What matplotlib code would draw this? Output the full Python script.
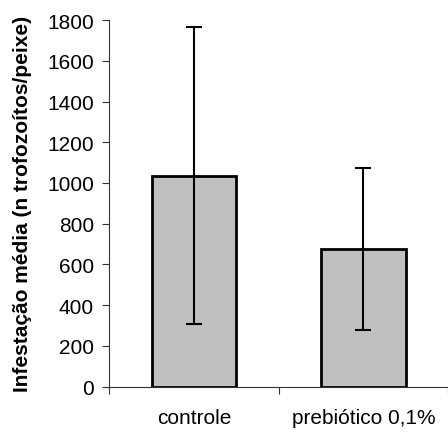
import matplotlib.pyplot as plt
import numpy as np

plt.rcParams['font.family'] = ['Liberation Sans', 'DejaVu Sans']

categories = ['controle', 'prebiótico 0,1%']
means = [1036, 676]
err_low = [308, 278]
err_high = [1765, 1072]

x = np.arange(len(categories))
yerr = [np.array(means) - np.array(err_low), np.array(err_high) - np.array(means)]

fig = plt.figure(figsize=(4.48, 4.35), dpi=100)
ax = fig.add_axes([0.244, 0.1087, 0.756, 0.843])

ax.bar(x, means, width=0.5, color='#c0c0c0', edgecolor='black', linewidth=2, zorder=2)
ax.errorbar(x, means, yerr=yerr, fmt='none', ecolor='black', elinewidth=1.5,
            capsize=5.8, capthick=1.5, zorder=3)

ax.set_xlim(-0.5, 1.5)
ax.set_ylim(0, 1800)
ax.set_yticks(np.arange(0, 1801, 200))
ax.set_xticks(x)
ax.set_xticklabels(categories)
ax.set_xticks([-0.5, 0.5, 1.5], minor=True)
ax.tick_params(axis='x', which='major', length=0, pad=15, labelsize=15)
ax.tick_params(axis='x', which='minor', length=5, width=0.8, color='#333333', direction='out')
ax.tick_params(axis='y', length=5, width=0.8, color='#333333', labelsize=15, pad=6)

for s in ['top', 'right']:
    ax.spines[s].set_visible(False)
for s in ['left', 'bottom']:
    ax.spines[s].set_linewidth(0.8)
    ax.spines[s].set_color('#333333')

ax.set_ylabel('Infestação média (n trofozoítos/peixe)', fontsize=15, fontweight='bold', labelpad=11)

fig.savefig('out.png', dpi=100)
